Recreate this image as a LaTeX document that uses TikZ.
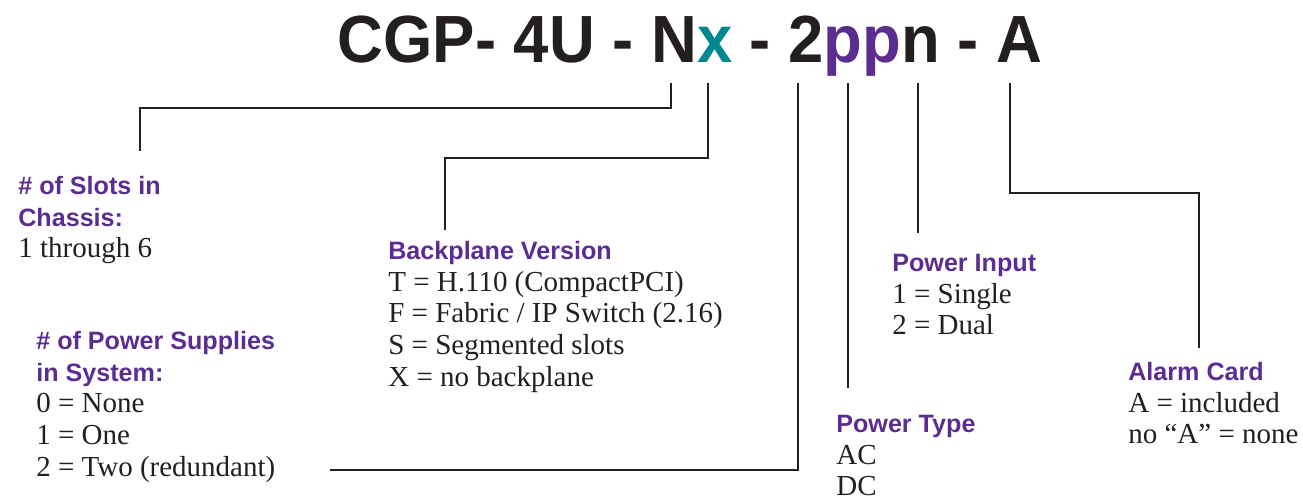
\documentclass[tikz,border=0pt]{standalone}
\usepackage{fontspec}
\setmainfont{Liberation Serif}
\setsansfont{Liberation Sans}
\definecolor{ink}{HTML}{231F20}
\definecolor{hdpurple}{HTML}{5C2D91}
\definecolor{xteal}{HTML}{00878F}
\newcommand{\hd}[1]{{\sffamily\bfseries\fontsize{14.3}{18}\selectfont\color{hdpurple}#1}}
\begin{document}
\begin{tikzpicture}[x=0.02cm,y=-0.02cm,
    lead/.style={draw=ink, line width=1.2pt},
    block/.style={anchor=north west, inner sep=0pt, align=left, text=ink,
                  font=\fontsize{16.5}{18}\selectfont}]
    \useasboundingbox (0,0) rectangle (1303,501);

    % part number
    \node[anchor=base, inner sep=0pt, text=ink, font=\sffamily\bfseries\fontsize{38}{40}\selectfont]
        (title) at (690,62) {\scalebox{0.95}[1]{CGP- 4U - N{\color{xteal}x} - 2{\color{hdpurple}pp}n - A}};

    % where the leads leave the part number
    \coordinate (tN)  at (671,83);
    \coordinate (tX)  at (708,83);
    \coordinate (t2)  at (798,83);
    \coordinate (tP)  at (848,83);
    \coordinate (tn)  at (918,83);
    \coordinate (tA)  at (1010,83);

    % where they end
    \coordinate (eSlots)  at (140,151);
    \coordinate (eBack)   at (445,230);
    \coordinate (eSupply) at (330,470);
    \coordinate (eType)   at (848,388);
    \coordinate (eInput)  at (918,233);
    \coordinate (eAlarm)  at (1199,348);

    % legend blocks
    \node[block] (slots) at (18,176) {\hd{\# of Slots in}\\
        \hd{Chassis:}\\
        1 through 6};

    \node[block] (back) at (388,241) {\hd{Backplane Version}\\
        T = H.110 (CompactPCI)\\
        F = Fabric / IP Switch (2.16)\\
        S = Segmented slots\\
        X = no backplane};

    \node[block] (supply) at (36,331) {\hd{\# of Power Supplies}\\
        \hd{in System:}\\
        0 = None\\
        1 = One\\
        2 = Two (redundant)};

    \node[block] (ptype) at (836,415) {\hd{Power Type}\\
        AC\\
        DC};

    \node[block] (pinput) at (892,254) {\hd{Power Input}\\
        1 = Single\\
        2 = Dual};

    \node[block] (alarm) at (1128,362) {\hd{Alarm Card}\\
        A = included\\
        no ``A'' = none};

    % leads
    \draw[lead] (tN) -- ++(0,25) -| (eSlots);
    \draw[lead] (tX) -- ++(0,75) -| (eBack);
    \draw[lead] (t2) |- (eSupply);
    \draw[lead] (tP) -- (eType);
    \draw[lead] (tn) -- (eInput);
    \draw[lead] (tA) -- ++(0,110) -| (eAlarm);
\end{tikzpicture}
\end{document}
